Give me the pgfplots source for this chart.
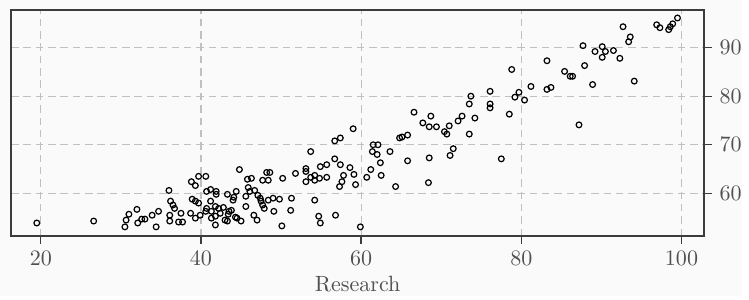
\documentclass[border=0pt]{standalone}
\usepackage{pgfplots}
\pgfplotsset{compat=1.18}
\usetikzlibrary{backgrounds}
\definecolor{bgc}{RGB}{250,250,250}
\definecolor{gridc}{RGB}{192,192,192}
\definecolor{axc}{RGB}{60,60,60}
\definecolor{txtc}{RGB}{80,80,80}
\begin{document}
\begin{tikzpicture}
\begin{axis}[
  name=ax,
  scale only axis,
  width=314.5pt, height=102.6pt,
  xmin=16.28, xmax=102.85, ymin=51.2, ymax=97.76,
  xtick={20,40,60,80,100}, ytick={60,70,80,90},
  xtick pos=bottom, ytick pos=right, yticklabel pos=right,
  tick align=outside, major tick length=3.4pt,
  tick style={axc, line width=0.6pt},
  axis line style={axc, line width=0.8pt},
  grid=major,
  grid style={gridc, line width=0.5pt, dash pattern=on 3.4pt off 2.2pt},
  tick label style={txtc},
  xlabel={Research}, xlabel style={txtc, yshift=2pt},
]
\addplot[only marks, mark=o, mark size=1.3pt, mark options={draw=black, fill=none, line width=0.55pt}] table {
x y
19.5 53.9
26.6 54.3
30.65 54.5
30.5 53.1
31.0 55.7
32.0 56.7
32.1 53.9
32.6 54.7
33.0 54.7
33.9 55.5
34.4 53.1
34.7 56.3
36.0 60.6
36.1 55.5
36.1 54.3
36.2 58.4
36.5 57.6
36.7 56.9
37.2 54.1
37.5 55.9
37.7 54.1
38.7 55.9
38.8 62.4
39.3 61.6
38.9 58.8
39.3 58.4
39.7 63.5
40.6 63.5
39.3 54.9
39.9 55.5
39.7 58.0
40.7 60.4
41.2 60.8
41.2 58.4
41.9 60.4
41.9 59.8
40.7 56.9
41.3 56.3
41.8 55.3
41.8 53.5
42.2 56.9
42.8 57.1
43.3 59.8
43.3 54.3
43.5 56.3
44.0 58.6
44.4 60.4
44.5 54.9
44.8 64.9
45.0 54.3
45.6 59.4
45.6 57.3
45.8 62.9
41.3 54.9
42.4 55.9
43.4 55.7
43.8 56.5
43.0 54.5
44.3 55.1
41.8 57.3
40.6 56.3
44.1 59.2
45.9 61.2
46.7 60.6
46.1 60.4
47.1 59.6
47.4 59.0
47.5 58.4
47.7 57.6
47.9 56.9
48.4 58.6
49.0 59.0
49.8 58.8
51.3 59.0
51.2 56.5
49.1 56.3
50.1 53.3
46.6 55.5
47.0 54.5
46.3 63.1
47.7 62.7
48.4 62.7
48.2 64.3
48.6 64.3
50.2 63.1
51.8 64.1
53.1 64.5
53.1 62.4
53.1 65.1
53.7 68.6
56.7 67.1
57.4 65.9
55.7 65.9
54.9 65.5
53.7 63.3
54.2 62.7
54.2 63.7
54.8 63.1
55.7 63.3
57.8 63.7
58.6 65.3
59.1 63.9
57.6 62.4
57.3 61.4
59.3 61.8
54.2 58.6
54.7 55.3
54.9 53.9
56.8 55.5
59.9 53.1
59.0 73.3
57.4 71.4
56.7 70.8
61.5 70.0
62.1 70.0
61.4 68.6
62.0 68.0
63.6 68.6
62.4 66.3
61.2 64.9
60.7 63.3
62.5 63.7
64.3 61.4
65.8 66.7
68.5 67.3
68.4 62.2
71.1 67.8
71.5 69.2
64.8 71.4
65.1 71.6
65.8 72.0
66.6 76.7
68.7 75.9
67.7 74.5
68.5 73.7
69.4 73.7
70.4 72.7
70.7 72.2
71.0 73.9
72.1 74.9
72.6 75.9
74.2 75.5
73.5 72.2
73.7 80.0
73.5 78.4
76.1 81.0
76.1 78.4
76.1 77.6
77.5 67.1
78.5 76.3
78.8 85.5
79.2 79.8
79.7 80.8
80.4 79.2
81.2 82.0
83.2 81.4
83.7 81.8
83.2 87.3
85.4 85.1
86.1 84.1
86.4 84.1
87.2 74.1
87.7 90.4
87.9 86.3
88.9 82.4
89.2 89.2
90.1 90.2
90.5 89.2
91.5 89.4
90.1 88.0
92.3 87.8
92.7 94.3
93.6 92.2
93.4 91.2
94.1 83.1
96.9 94.7
97.3 94.1
98.4 93.7
98.6 94.3
98.9 94.9
99.5 96.1
};
\end{axis}
\path (ax.south west) ++(-5pt,-27pt) coordinate (bbsw);
\path (ax.north east) ++(17pt,4.5pt) coordinate (bbne);
\path (bbsw) (bbne);
\begin{scope}[on background layer]
\fill[bgc] (bbsw) rectangle (bbne);
\end{scope}
\end{tikzpicture}
\end{document}
